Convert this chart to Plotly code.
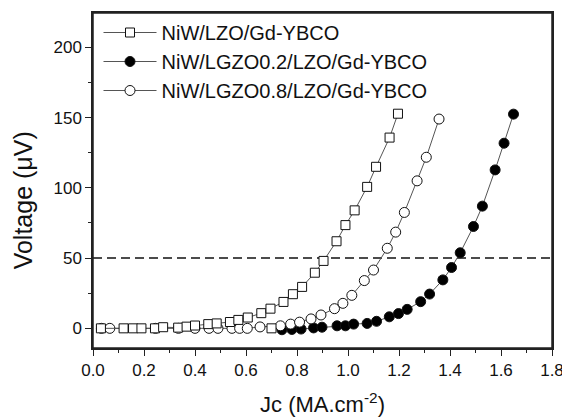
import plotly.graph_objects as go

# ---- data ----
lzo_x = [0.031, 0.12, 0.157, 0.19, 0.243, 0.275, 0.334, 0.367, 0.40, 0.452, 0.485, 0.537,
         0.57, 0.607, 0.66, 0.696, 0.747, 0.784, 0.82, 0.87, 0.904, 0.955, 0.99, 1.026,
         1.075, 1.11, 1.163, 1.196, None, 0.70]
lzo_y = [0, 0, 0, 0, 0, 0.8, 0.5, 1.2, 2, 3, 3.5, 4.5,
         6, 7.7, 10.8, 14, 18.8, 24.3, 29.5, 39.6, 48, 62, 73.5, 84,
         100.7, 115, 135.8, 152.8, None, 0]

lgzo02_x = [0.741, 0.78, 0.816, 0.865, 0.898, 0.957, 0.99, 1.022, 1.075, 1.112, 1.162, 1.198,
            1.232, 1.285, 1.32, 1.372, 1.406, 1.44, 1.492, 1.527, 1.577, 1.612, 1.649]
lgzo02_y = [-1, -0.8, -0.5, 0.3, 0.8, 1.8, 1.8, 3, 3.5, 5, 8.2, 10.5,
            13.5, 19, 24.4, 34.5, 43.3, 53.8, 72.5, 87, 112.8, 131.8, 152.5]

lgzo08_x = [0.033, 0.066, 0.245, 0.335, 0.40, 0.455, 0.49, 0.545, 0.575, 0.605, 0.655, 0.735,
            0.775, 0.81, 0.855, 0.894, 0.947, 0.98, 1.015, 1.064, 1.1, 1.154, 1.187, 1.221,
            1.271, 1.307, 1.357]
lgzo08_y = [0, 0, 0, 0, 0, 0, 0, 0, 0, 0, 1.0, 1.8,
            3, 4.4, 6.7, 9.5, 14, 17.8, 23.5, 34, 41.5, 57, 68.5, 82.5,
            105, 121.8, 149]

names = ["NiW/LZO/Gd-YBCO", "NiW/LGZO0.2/LZO/Gd-YBCO", "NiW/LGZO0.8/LZO/Gd-YBCO"]
threshold = 50
x_ticks = [0.0, 0.2, 0.4, 0.6, 0.8, 1.0, 1.2, 1.4, 1.6, 1.8]
y_ticks = [0, 50, 100, 150, 200]
x_title = "Jc (MA.cm<sup>-2</sup>)"
y_title = "Voltage (μV)"

FONT = "Liberation Sans, Arial, sans-serif"
LINE_C = "#555555"
EDGE_C = "#111111"

fig = go.Figure()

fig.add_trace(go.Scatter(
    x=lgzo02_x, y=lgzo02_y, name=names[1], mode="lines+markers", legendrank=2,
    line=dict(color=LINE_C, width=1),
    marker=dict(symbol="circle", size=10, color="#000000", line=dict(color=EDGE_C, width=1)),
))
fig.add_trace(go.Scatter(
    x=lgzo08_x, y=lgzo08_y, name=names[2], mode="lines+markers", legendrank=3,
    line=dict(color=LINE_C, width=1),
    marker=dict(symbol="circle", size=10, color="#ffffff", line=dict(color=EDGE_C, width=1)),
))
fig.add_trace(go.Scatter(
    x=lzo_x, y=lzo_y, name=names[0], mode="lines+markers", legendrank=1,
    connectgaps=False,
    line=dict(color=LINE_C, width=1),
    marker=dict(symbol="square", size=9, color="#ffffff", line=dict(color=EDGE_C, width=1)),
))

fig.add_shape(type="line", xref="paper", yref="y", x0=0, x1=1, y0=threshold, y1=threshold,
              line=dict(color="#111111", width=1.5, dash="9px,5px"), layer="below")
# plot frame
fig.add_shape(type="rect", xref="paper", yref="paper", x0=0, x1=1, y0=0, y1=1,
              line=dict(color="#222222", width=1.5), layer="above")

axis_common = dict(
    showline=True, linecolor="#222222", linewidth=1.5, mirror=True,
    ticks="outside", ticklen=6, tickwidth=1.2, tickcolor="#222222",
    showgrid=False, zeroline=False, ticklabeloverflow="allow",
    tickfont=dict(family=FONT, size=17, color="#111111"),
)

fig.update_xaxes(
    range=[0, 1.8], tickvals=x_ticks, ticktext=[f"{v:.1f}" for v in x_ticks],
    minor=dict(dtick=0.1, ticks="outside", ticklen=3, tickcolor="#222222", tickwidth=1.2),
    title=dict(text=x_title, font=dict(family=FONT, size=22, color="#111111"), standoff=18),
    **axis_common,
)
fig.update_yaxes(
    range=[-14, 224.5], tickvals=y_ticks,
    minor=dict(dtick=25, ticks="outside", ticklen=3, tickcolor="#222222", tickwidth=1.2),
    **axis_common,
)

fig.add_annotation(
    text=y_title, xref="paper", yref="paper", x=-0.153, y=0.44,
    xanchor="center", yanchor="middle", textangle=-90, showarrow=False,
    font=dict(family=FONT, size=25, color="#111111"),
)

fig.update_layout(
    width=562, height=417,
    margin=dict(l=93, r=10, t=13, b=69, autoexpand=False),
    paper_bgcolor="white", plot_bgcolor="white",
    showlegend=True,
    legend=dict(
        x=0.012, y=1.0, xanchor="left", yanchor="top",
        bgcolor="rgba(0,0,0,0)", borderwidth=0,
        font=dict(family=FONT, size=20, color="#111111"),
        itemwidth=53, tracegroupgap=0,
    ),
    font=dict(family=FONT),
)

fig.write_html(
    "out.html",
    config={"displayModeBar": False},
    post_script="document.body.style.margin='0px';document.body.style.overflow='hidden';",
)
